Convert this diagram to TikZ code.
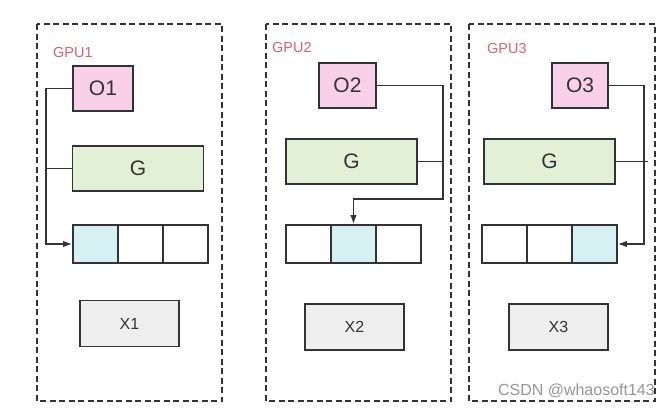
\documentclass[tikz,border=0pt]{standalone}
\usepackage{fontspec}
\setmainfont{Liberation Sans}
\usetikzlibrary{arrows.meta}
\definecolor{pinkfill}{RGB}{248,208,234}
\definecolor{greenfill}{RGB}{226,241,214}
\definecolor{cyanfill}{RGB}{214,241,244}
\definecolor{grayfill}{RGB}{238,238,238}
\definecolor{edge}{RGB}{51,51,51}
\definecolor{gpured}{RGB}{220,96,112}
\definecolor{wm}{RGB}{150,150,150}
\tikzset{
  frame/.style={draw=edge, line width=1.6pt, dash pattern=on 6pt off 3.5pt},
  box/.style={draw=edge, line width=1.7pt, inner sep=0pt, minimum height=45pt, text=edge},
  obox/.style={box, fill=pinkfill, font=\fontsize{21}{23}\selectfont},
  gbox/.style={box, fill=greenfill, minimum width=131pt, font=\fontsize{21}{23}\selectfont},
  cell/.style={box, fill=white, minimum width=45pt, minimum height=38pt},
  hot/.style={fill=cyanfill},
  xbox/.style={box, fill=grayfill, minimum width=99pt, minimum height=46pt, font=\fontsize{16}{18}\selectfont},
  gpulabel/.style={text=gpured, anchor=west, inner sep=0pt, font=\fontsize{14.5}{16}\selectfont},
  conn/.style={draw=edge, line width=1.5pt},
  arr/.style={conn, -{Latex[length=9pt,width=6.5pt]}}
}
\begin{document}
\begin{tikzpicture}[x=1pt,y=-1pt]
\useasboundingbox[fill=white] (0,0) rectangle (672,407);
% frames
\draw[frame] (37,24) rectangle (222,401);
\draw[frame] (266,24) rectangle (451,401);
\draw[frame] (469,24) rectangle (655,401);
% panel 1
\node[gpulabel] (gpu1) at (53,53) {GPU1};
\node[obox, minimum width=60pt] (o1) at (103,88.5) {O1};
\node[gbox] (g1) at (138,168.5) {G};
\node[cell, hot] (c1a) at (95.5,244) {};
\node[cell] (c1b) at (140.5,244) {};
\node[cell] (c1c) at (185.5,244) {};
\node[xbox] (x1) at (129.5,323.5) {X1};
\coordinate (j1a) at (46,88.5);
\coordinate (j1b) at (46,168.5);
\coordinate (j1c) at (46,244);
\draw[arr] (o1.west) -- (j1a) -- (j1c) -- (c1a.west);
\draw[conn] (g1.west) -- (j1b);
% panel 2
\node[gpulabel] (gpu2) at (272,48) {GPU2};
\node[obox, minimum width=57pt] (o2) at (347.5,85.5) {O2};
\node[gbox] (g2) at (351.5,161.5) {G};
\node[cell] (c2a) at (308.5,244) {};
\node[cell, hot] (c2b) at (353.5,244) {};
\node[cell] (c2c) at (398.5,244) {};
\node[xbox] (x2) at (354.5,327) {X2};
\coordinate (j2a) at (443,85.5);
\coordinate (j2b) at (443,161.5);
\coordinate (j2c) at (443,199);
\coordinate (j2d) at (353.5,199);
\draw[arr] (o2.east) -- (j2a) -- (j2c) -- (j2d) -- (c2b.north);
\draw[conn] (g2.east) -- (j2b);
% panel 3
\node[gpulabel] (gpu3) at (487,49) {GPU3};
\node[obox, minimum width=56pt] (o3) at (580,85.5) {O3};
\node[gbox] (g3) at (549.5,161.5) {G};
\node[cell] (c3a) at (504.5,244) {};
\node[cell] (c3b) at (549.5,244) {};
\node[cell, hot] (c3c) at (594.5,244) {};
\node[xbox] (x3) at (558.5,327) {X3};
\coordinate (j3a) at (644,85.5);
\coordinate (j3b) at (648,161.5);
\coordinate (j3c) at (644,244);
\draw[arr] (o3.east) -- (j3a) -- (j3c) -- (c3c.east);
\draw[conn] (g3.east) -- (j3b);
% watermark
\node[text=wm, anchor=base east, inner sep=0pt, font=\fontsize{16}{18}\selectfont] (wmk) at (655,395) {CSDN @whaosoft143};
\end{tikzpicture}
\end{document}
